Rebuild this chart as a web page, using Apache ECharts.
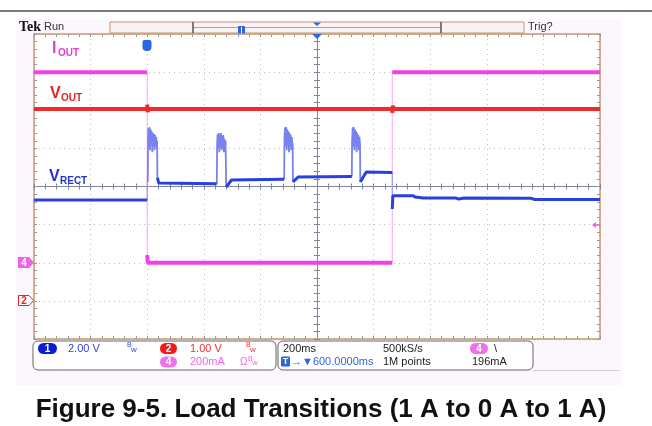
<!DOCTYPE html>
<html>
<head>
<meta charset="utf-8">
<script src="https://cdn.jsdelivr.net/npm/echarts@6/dist/echarts.min.js"></script>
<style>
  html, body { margin: 0; padding: 0; background: #fff; }
  #chart { width: 652px; height: 426px; }
</style>
</head>
<body>
<div id="chart"></div>
<script>
// channel settings: units per division and ground offset (divisions from centre)
const ch1 = { scale: 2.0, offset: -3.6 };   // V_RECT, 2.00 V/div
const ch2 = { scale: 1.0, offset: -3.0 };   // V_OUT, 1.00 V/div
const ch4 = { scale: 0.2, offset: -2.0 };   // I_OUT, 200 mA/div

// time in ms relative to the trigger, value in A or V
const ioutData = [[-400, 1.0], [0, 1.0], [0, 0.04], [2, 0.0], [866, 0.0], [866, 1.0], [1600, 1.0]];

const voutData = [[-400, 5.03], [0, 5.03], [0, 5.15], [2, 4.95], [4, 5.03], [866, 5.03], [866, 4.93],
  [868, 5.12], [870, 5.03], [1600, 5.03]];

// rectifier voltage, null = gap where a burst is drawn
const vrectData = [[-400, 6.49], [0, 6.49], [0, 7.44], [2, 7.44], null,
  [36, 7.65], [41, 7.38], [46, 7.34], [246, 7.34], null,
  [279, 7.17], [283, 7.17], [298, 7.54], [484, 7.58], null,
  [515, 7.44], [519, 7.44], [534, 7.70], [723, 7.72], null,
  [753, 7.44], [757, 7.44], [774, 7.96], [866, 7.93], [866, 6.02], [868, 6.72],
  [940, 6.72], [948, 6.64], [956, 6.64], [962, 6.72], [975, 6.60], [1090, 6.60],
  [1100, 6.54], [1120, 6.60], [1355, 6.58], [1370, 6.52], [1600, 6.52]];

const vrectBursts = [
  [[2, 7.44], [3, 9.6], [4, 10.25], [6, 9.3], [8, 10.32], [10, 9.1], [12, 10.2], [14, 9.4], [16, 10.1],
   [18, 9.0], [20, 10.0], [22, 9.3], [24, 9.95], [26, 9.1], [28, 9.9], [30, 9.3], [32, 9.8], [34, 9.2],
   [35, 9.6], [36, 7.65]],
  [[246, 7.34], [247, 9.4], [249, 9.95], [251, 9.2], [253, 10.0], [255, 9.0], [257, 9.9], [259, 9.3],
   [261, 10.0], [263, 9.1], [265, 9.85], [267, 9.2], [269, 9.9], [271, 9.0], [273, 9.7], [275, 9.2],
   [277, 9.6], [279, 7.17]],
  [[484, 7.58], [485, 9.7], [487, 10.3], [489, 9.3], [491, 10.32], [493, 9.1], [495, 10.2], [497, 9.4],
   [499, 10.1], [501, 9.0], [503, 10.0], [505, 9.3], [507, 9.9], [509, 9.1], [511, 9.8], [513, 9.3],
   [514, 9.5], [515, 7.44]],
  [[723, 7.72], [724, 9.6], [726, 10.3], [728, 9.3], [730, 10.32], [732, 9.1], [734, 10.2], [736, 9.4],
   [738, 10.1], [740, 9.0], [742, 10.0], [744, 9.3], [746, 9.9], [748, 9.1], [750, 9.8], [752, 9.4],
   [753, 7.44]]
];

const toDiv = (ch, v) => v / ch.scale + ch.offset;

// split a trace into the slow part (thick) and the fast vertical edges (faint)
function buildTrace(points, ch) {
  const main = [], edges = [];
  for (let i = 0; i < points.length; i++) {
    const p = points[i];
    if (p === null) { main.push([points[i - 1][0], '-']); continue; }
    const prev = points[i - 1];
    if (prev && p[0] === prev[0]) {
      main.push([p[0], '-']);
      edges.push([prev[0], toDiv(ch, prev[1])], [p[0], toDiv(ch, p[1])], [p[0], '-']);
    }
    main.push([p[0], toDiv(ch, p[1])]);
  }
  return { main, edges };
}

const iout = buildTrace(ioutData, ch4);
const vout = buildTrace(voutData, ch2);
const vrect = buildTrace(vrectData, ch1);
const bursts = [];
vrectBursts.forEach(b => {
  b.forEach(p => bursts.push([p[0], toDiv(ch1, p[1])]));
  bursts.push([b[b.length - 1][0], '-']);
});

const MAGENTA = '#f040e8', RED = '#ee2a2a', BLUE = '#2a3fe0', TBLUE = '#2a66e0';
const BORDER = '#c8976a', TICK = '#9a9a9a', CROSS = '#80869a';
const FONT = '"Liberation Sans", Arial, sans-serif';

function txt(x, y, text, font, fill, align) {
  return { type: 'text', x, y, silent: true,
    style: { text, font, fill, textAlign: align || 'left', textVerticalAlign: 'middle' } };
}
function badge(x, y, w, h, fill, label, stroke) {
  return [
    { type: 'rect', silent: true, shape: { x, y, width: w, height: h, r: h / 2 },
      style: { fill, stroke: stroke || null } },
    txt(x + w / 2, y + h / 2 + 0.5, label, 'bold 10px ' + FONT, '#fff', 'center')
  ];
}
function bw(x, y, color) {
  return [txt(x, y - 3, 'B', '7px ' + FONT, color), txt(x + 4, y + 1, 'w', '8px ' + FONT, color)];
}

const borderAxis = (pos, split) => ({
  gridIndex: 0, type: 'value', position: pos,
  axisLine: { show: true, onZero: false, lineStyle: { color: BORDER, width: 1.5 } },
  axisTick: { show: true, inside: true, length: 3, lineStyle: { color: TICK } },
  minorTick: { show: true, splitNumber: 5, length: 3, lineStyle: { color: TICK } },
  axisLabel: { show: false },
  splitLine: { show: split, lineStyle: { color: '#bdbdbd', type: [1, 4] } }
});
const crossAxis = (grid, inside) => ({
  gridIndex: grid, type: 'value',
  axisLine: { show: true, onZero: true, lineStyle: { color: CROSS, width: 1 } },
  axisTick: { show: true, inside, length: 3, lineStyle: { color: CROSS } },
  minorTick: { show: true, splitNumber: 5, length: 3, lineStyle: { color: CROSS } },
  axisLabel: { show: false },
  splitLine: { show: false }
});

const xAxes = [
  Object.assign(borderAxis('bottom', true), { min: -400, max: 1600, interval: 200 }),
  Object.assign(borderAxis('top', false), { min: -400, max: 1600, interval: 200 }),
  Object.assign(crossAxis(1, true), { min: -5, max: 5, interval: 1 }),
  Object.assign(crossAxis(2, false), { min: -5, max: 5, interval: 1 })
];
const yAxes = [
  Object.assign(borderAxis('left', true), { min: -4, max: 4, interval: 1 }),
  Object.assign(borderAxis('right', false), { min: -4, max: 4, interval: 1 }),
  Object.assign(crossAxis(1, true), { min: -4, max: 4, interval: 1 }),
  Object.assign(crossAxis(2, false), { min: -4, max: 4, interval: 1 })
];

const lineSeries = (data, color, width, z) => ({
  type: 'line', xAxisIndex: 0, yAxisIndex: 0, data, showSymbol: false, silent: true,
  connectNulls: false, z, lineStyle: { color, width }
});

const graphics = [
  { type: 'rect', z: -10, silent: true, shape: { x: 16, y: 19, width: 606, height: 366 }, style: { fill: '#fcf7fc' } },
  { type: 'line', silent: true, shape: { x1: 0, y1: 11, x2: 652, y2: 11 }, style: { stroke: '#7a7a7a', lineWidth: 2 } },
  txt(19, 27, 'Tek', 'bold 14px "Liberation Serif", serif', '#111'),
  txt(44, 27, 'Run', '11px ' + FONT, '#333'),
  txt(528, 27, 'Trig?', '11px ' + FONT, '#333'),
  // record view bar
  { type: 'rect', silent: true, shape: { x: 110, y: 22, width: 414, height: 11 }, style: { fill: '#f6f2f6', stroke: BORDER } },
  { type: 'line', silent: true, shape: { x1: 193, y1: 27.5, x2: 441, y2: 27.5 }, style: { stroke: '#f070e8', lineWidth: 1 } },
  { type: 'line', silent: true, shape: { x1: 193, y1: 22, x2: 193, y2: 33 }, style: { stroke: '#555', lineWidth: 1.5 } },
  { type: 'line', silent: true, shape: { x1: 441, y1: 22, x2: 441, y2: 33 }, style: { stroke: '#555', lineWidth: 1.5 } },
  { type: 'rect', silent: true, shape: { x: 238, y: 26, width: 7, height: 8, r: 1 }, style: { fill: TBLUE } },
  { type: 'line', silent: true, shape: { x1: 241.5, y1: 27, x2: 241.5, y2: 34 }, style: { stroke: '#fff', lineWidth: 1 } },
  { type: 'polygon', silent: true, shape: { points: [[313, 22.5], [321, 22.5], [317, 26]] }, style: { fill: TBLUE } },
  { type: 'polygon', silent: true, z: 10, shape: { points: [[312, 34], [322, 34], [317, 39]] }, style: { fill: TBLUE } },
  // trigger point marker
  { type: 'rect', silent: true, z: 10, shape: { x: 142.5, y: 40, width: 9, height: 11, r: [2, 2, 4, 4] }, style: { fill: TBLUE } },
  txt(147, 45.5, 'T', 'bold 9px ' + FONT, '#fff', 'center'),
  // trace labels
  txt(52, 49, 'I', 'bold 16px ' + FONT, '#e83ad8'),
  txt(58, 53.5, 'OUT', 'bold 10px ' + FONT, '#e83ad8'),
  txt(50, 94, 'V', 'bold 16px ' + FONT, '#e82020'),
  txt(61, 98.5, 'OUT', 'bold 10px ' + FONT, '#e82020'),
  txt(49, 177, 'V', 'bold 16px ' + FONT, '#2233d0'),
  txt(60, 181, 'RECT', 'bold 10px ' + FONT, '#2233d0'),
  // ground markers
  { type: 'polygon', silent: true, shape: { points: [[18, 257], [29, 257], [34, 262.5], [29, 268], [18, 268]] }, style: { fill: '#f060e8' } },
  txt(24, 263, '4', 'bold 10px ' + FONT, '#fff', 'center'),
  { type: 'polygon', silent: true, shape: { points: [[18.5, 295.5], [29, 295.5], [33.5, 300.5], [29, 305.5], [18.5, 305.5]] }, style: { fill: '#fff', stroke: '#ee2222', lineWidth: 1 } },
  txt(24, 301, '2', 'bold 10px ' + FONT, '#ee2222', 'center'),
  // trigger level arrow
  { type: 'polygon', silent: true, z: 10, shape: { points: [[592, 225], [596, 222], [596, 228]] }, style: { fill: '#f060e8' } },
  { type: 'line', silent: true, z: 10, shape: { x1: 595, y1: 225, x2: 600, y2: 225 }, style: { stroke: '#f060e8', lineWidth: 1.5 } },
  // readout boxes
  { type: 'rect', silent: true, shape: { x: 33, y: 341, width: 243, height: 29, r: 5 }, style: { fill: '#fff', stroke: '#666', lineWidth: 1 } },
  { type: 'rect', silent: true, shape: { x: 278, y: 341, width: 255, height: 29, r: 5 }, style: { fill: '#fff', stroke: '#666', lineWidth: 1 } },
  { type: 'line', silent: true, shape: { x1: 533, y1: 370.5, x2: 620, y2: 370.5 }, style: { stroke: '#d0d0d0', lineWidth: 1 } },
  ...badge(38, 343, 19, 11, '#0a1fd0', '1'),
  txt(68, 348.5, '2.00 V', '11px ' + FONT, '#3344dd'),
  ...bw(127, 348.5, '#3344dd'),
  ...badge(160, 343, 17, 11, '#ee1c1c', '2'),
  txt(190, 348.5, '1.00 V', '11px ' + FONT, '#ee3333'),
  ...bw(246, 348.5, '#ee3333'),
  ...badge(160, 356.5, 17, 11, '#f070ea', '4'),
  txt(190, 362, '200mA', '11px ' + FONT, '#ee66e6'),
  txt(240, 362, 'Ω', '10px ' + FONT, '#ee66e6'),
  ...bw(248, 362, '#ee66e6'),
  txt(283, 348.5, '200ms', '11px ' + FONT, '#222'),
  { type: 'rect', silent: true, shape: { x: 281, y: 356.5, width: 9, height: 10, r: 1 }, style: { fill: TBLUE } },
  txt(285.5, 362, 'T', 'bold 9px ' + FONT, '#fff', 'center'),
  txt(291, 362, '→▼600.0000ms', '11px ' + FONT, TBLUE),
  txt(383, 348.5, '500kS/s', '11px ' + FONT, '#222'),
  txt(383, 362, '1M points', '11px ' + FONT, '#222'),
  ...badge(470, 343, 18, 11, '#f070ea', '4'),
  txt(494, 348.5, '\\', '11px ' + FONT, '#222'),
  txt(472, 362, '196mA', '11px ' + FONT, '#222'),
  // caption
  txt(321, 410, 'Figure 9-5. Load Transitions (1 A to 0 A to 1 A)', 'bold 26px ' + FONT, '#111', 'center')
];

const chart = echarts.init(document.getElementById('chart'));
chart.setOption({
  animation: false,
  backgroundColor: '#fff',
  grid: [
    { left: 34, top: 34, width: 566, height: 305, show: true, backgroundColor: '#fff', borderWidth: 0 },
    { left: 34, top: 34, width: 566, height: 305 },
    { left: 34, top: 34, width: 566, height: 305 }
  ],
  xAxis: xAxes,
  yAxis: yAxes,
  series: [
    lineSeries(iout.edges, '#f7a8f2', 1, 3),
    lineSeries(iout.main, MAGENTA, 4, 4),
    lineSeries(vout.edges, '#f3a0a0', 1, 3),
    lineSeries(vout.main, RED, 4, 4),
    lineSeries(bursts, '#7683ee', 1.8, 3),
    lineSeries(vrect.edges, '#8c95f0', 1, 3),
    lineSeries(vrect.main, BLUE, 3, 5)
  ],
  graphic: graphics
});
</script>
</body>
</html>
